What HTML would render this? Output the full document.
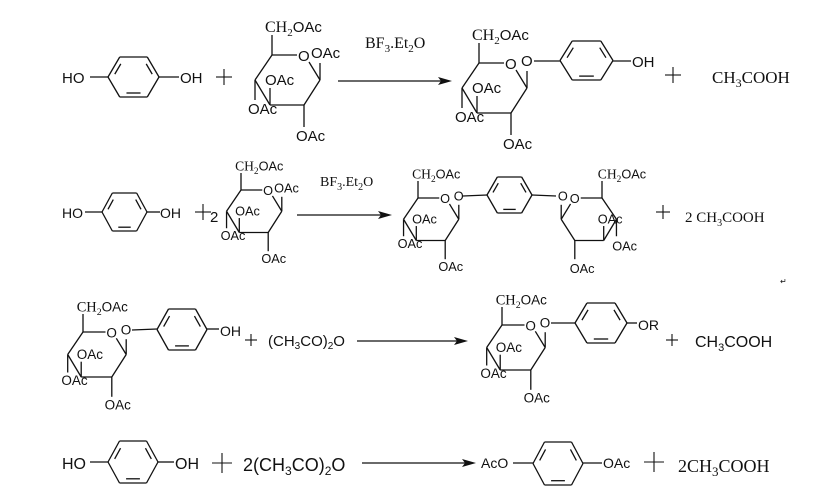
<!DOCTYPE html>
<html><head><meta charset="utf-8"><style>
html,body{margin:0;padding:0;background:#fff;}
svg{display:block;}
.s{font-family:"Liberation Sans",sans-serif;}
.r{font-family:"Liberation Serif",serif;}
text{fill:#111;}
</style></head><body>
<svg id="c" width="834" height="502" viewBox="0 0 834 502" xmlns="http://www.w3.org/2000/svg">
<g id="lines" stroke="#111" stroke-width="1.3" fill="none"></g>
<g id="fills" fill="#111"></g>

<!-- Row 1 -->
<text class="s" x="62" y="83" font-size="15">HO</text>
<text class="s" x="180" y="83" font-size="15">OH</text>
<g transform="translate(272,55)" font-size="15">
<text x="-7" y="-23"><tspan class="r" font-size="16">CH</tspan><tspan class="r" font-size="11" dy="4">2</tspan><tspan class="s" dy="-4">OAc</tspan></text>
<text class="s" x="26" y="6">O</text>
<text class="s" x="39" y="3">OAc</text>
<text class="s" x="-7" y="30">OAc</text>
<text class="s" x="-24" y="59">OAc</text>
<text class="s" x="24" y="86">OAc</text>
</g>
<text class="r" x="365" y="48" font-size="16">BF<tspan font-size="11" dy="4">3</tspan><tspan dy="-4">.Et</tspan><tspan font-size="11" dy="4">2</tspan><tspan dy="-4">O</tspan></text>
<g transform="translate(479,63)" font-size="15">
<text x="-7" y="-23"><tspan class="r" font-size="16">CH</tspan><tspan class="r" font-size="11" dy="4">2</tspan><tspan class="s" dy="-4">OAc</tspan></text>
<text class="s" x="26" y="6">O</text>
<text class="s" x="42" y="3">O</text>
<text class="s" x="-7" y="30">OAc</text>
<text class="s" x="-24" y="59">OAc</text>
<text class="s" x="24" y="86">OAc</text>
</g>
<text class="s" x="632" y="67" font-size="15">OH</text>
<text class="r" x="712" y="83" font-size="17">CH<tspan font-size="12" dy="4">3</tspan><tspan dy="-4">COOH</tspan></text>

<!-- Row 2 -->
<text class="s" x="62" y="218" font-size="14">HO</text>
<text class="s" x="160" y="218" font-size="14">OH</text>
<text class="s" x="210" y="222" font-size="15">2</text>
<g transform="translate(241,190) scale(0.85)" font-size="15">
<text x="-7" y="-23"><tspan class="r" font-size="16">CH</tspan><tspan class="r" font-size="11" dy="4">2</tspan><tspan class="s" dy="-4">OAc</tspan></text>
<text class="s" x="26" y="6">O</text>
<text class="s" x="39" y="3">OAc</text>
<text class="s" x="-7" y="30">OAc</text>
<text class="s" x="-24" y="59">OAc</text>
<text class="s" x="24" y="86">OAc</text>
</g>
<text class="r" x="320" y="186" font-size="14">BF<tspan font-size="10" dy="4">3</tspan><tspan dy="-4">.Et</tspan><tspan font-size="10" dy="4">2</tspan><tspan dy="-4">O</tspan></text>
<g transform="translate(418,198) scale(0.85)" font-size="15">
<text x="-7" y="-23"><tspan class="r" font-size="16">CH</tspan><tspan class="r" font-size="11" dy="4">2</tspan><tspan class="s" dy="-4">OAc</tspan></text>
<text class="s" x="26" y="6">O</text>
<text class="s" x="42" y="3">O</text>
<text class="s" x="-7" y="30">OAc</text>
<text class="s" x="-24" y="59">OAc</text>
<text class="s" x="24" y="86">OAc</text>
</g>
<g transform="translate(602,198) scale(0.85)" font-size="15">
<text x="-5" y="-23"><tspan class="r" font-size="16">CH</tspan><tspan class="r" font-size="11" dy="4">2</tspan><tspan class="s" dy="-4">OAc</tspan></text>
<text class="s" x="-38" y="6">O</text>
<text class="s" x="-52" y="3">O</text>
<text class="s" x="-5" y="30">OAc</text>
<text class="s" x="12" y="62">OAc</text>
<text class="s" x="-38" y="88">OAc</text>
</g>
<text class="r" x="685" y="222" font-size="15">2 CH<tspan font-size="10" dy="4">3</tspan><tspan dy="-4">COOH</tspan></text>
<text class="s" x="780" y="284" font-size="8" fill="#888">↵</text>

<!-- Row 3 -->
<g transform="translate(83,332) scale(0.9)" font-size="15">
<text x="-7" y="-23"><tspan class="r" font-size="16">CH</tspan><tspan class="r" font-size="11" dy="4">2</tspan><tspan class="s" dy="-4">OAc</tspan></text>
<text class="s" x="26" y="6">O</text>
<text class="s" x="42" y="3">O</text>
<text class="s" x="-7" y="30">OAc</text>
<text class="s" x="-24" y="59">OAc</text>
<text class="s" x="24" y="86">OAc</text>
</g>
<text class="s" x="220" y="336" font-size="14">OH</text>
<text class="s" x="268" y="346" font-size="15">(CH<tspan font-size="10" dy="3">3</tspan><tspan dy="-3">CO)</tspan><tspan font-size="10" dy="3">2</tspan><tspan dy="-3">O</tspan></text>
<g transform="translate(502,325) scale(0.9)" font-size="15">
<text x="-7" y="-23"><tspan class="r" font-size="16">CH</tspan><tspan class="r" font-size="11" dy="4">2</tspan><tspan class="s" dy="-4">OAc</tspan></text>
<text class="s" x="26" y="6">O</text>
<text class="s" x="42" y="3">O</text>
<text class="s" x="-7" y="30">OAc</text>
<text class="s" x="-24" y="59">OAc</text>
<text class="s" x="24" y="86">OAc</text>
</g>
<text class="s" x="638" y="330" font-size="14">OR</text>
<text class="s" x="695" y="347" font-size="16">CH<tspan font-size="11" dy="4">3</tspan><tspan dy="-4">COOH</tspan></text>

<!-- Row 4 -->
<text class="s" x="62" y="469" font-size="16">HO</text>
<text class="s" x="175" y="469" font-size="16">OH</text>
<text class="s" x="243" y="471" font-size="18">2(CH<tspan font-size="12" dy="4">3</tspan><tspan dy="-4">CO)</tspan><tspan font-size="12" dy="4">2</tspan><tspan dy="-4">O</tspan></text>
<text class="s" x="481" y="468" font-size="14">AcO</text>
<text class="s" x="603" y="468" font-size="14">OAc</text>
<text class="r" x="678" y="472" font-size="18">2CH<tspan font-size="13" dy="4">3</tspan><tspan dy="-4">COOH</tspan></text>
</svg>
<script>
var L=document.getElementById('lines'),F=document.getElementById('fills');
function ln(a,b,c,d,w){var e=document.createElementNS('http://www.w3.org/2000/svg','line');e.setAttribute('x1',a);e.setAttribute('y1',b);e.setAttribute('x2',c);e.setAttribute('y2',d);if(w)e.setAttribute('stroke-width',w);L.appendChild(e);}
function benz(l,r,t,b){var w=r-l,yc=(t+b)/2,tl=l+0.23*w,tr=r-0.23*w;var P=[[l,yc],[tl,t],[tr,t],[r,yc],[tr,b],[tl,b]];var cx=(l+r)/2;
for(var i=0;i<6;i++){var p=P[i],q=P[(i+1)%6];ln(p[0],p[1],q[0],q[1]);}
[[0,1],[2,3],[4,5]].forEach(function(e){var p=P[e[0]],q=P[e[1]];var a=[p[0]+0.18*(q[0]-p[0]),p[1]+0.18*(q[1]-p[1])],c=[q[0]-0.18*(q[0]-p[0]),q[1]-0.18*(q[1]-p[1])];var k=0.2;ln(a[0]+k*(cx-a[0]),a[1]+k*(yc-a[1]),c[0]+k*(cx-c[0]),c[1]+k*(yc-c[1]));});}
function sugar(tx,ty,sx,sy){var T=function(p){return [tx+sx*p[0],ty+sy*p[1]];};
var S=[[[0,0],[0,-20]],[[0,0],[25,0]],[[37,7],[48,25]],[[48,25],[48,8]],[[48,25],[32,50]],[[32,50],[-2,50]],[[-2,50],[-17,25]],[[-17,25],[0,0]],[[32,50],[32,72]],[[-2,50],[-2,33]],[[-17,25],[-17,45]]];
S.forEach(function(s){var a=T(s[0]),b=T(s[1]);ln(a[0],a[1],b[0],b[1]);});}
function arrow(x1,x2,y){ln(x1,y,x2-10,y);var p=document.createElementNS('http://www.w3.org/2000/svg','polygon');p.setAttribute('points',(x2-14)+','+(y-4)+' '+x2+','+y+' '+(x2-14)+','+(y+4)+' '+(x2-11)+','+y);F.appendChild(p);}
function plus(x,y,h){ln(x-h,y,x+h,y,1.1);ln(x,y-h,x,y+h,1.1);}
// row1
benz(108,159,57,97);ln(90,77,108,77);ln(159,77,179,77);plus(224,77,8);
sugar(272,55,1,1);arrow(338,452,81);
sugar(479,63,1,1);benz(560,613,41,80);ln(534,61,560,61);ln(613,61,631,61);plus(673,75,8);
// row2
benz(102,147,193,231);ln(85,212,102,212);ln(147,212,160,212);plus(203,212,8);
sugar(241,190,0.85,0.85);arrow(297,392,215);
sugar(418,198,0.85,0.85);benz(487,532,177,213);ln(463,196,487,195);ln(532,195,556,196);
sugar(602,198,-0.85,0.85);plus(663,212,7);
// row3
sugar(83,332,0.9,0.9);benz(157,207,309,350);ln(132,330,157,329);ln(207,329,219,329);plus(251,340,6);
arrow(357,468,341);
sugar(502,325,0.9,0.9);benz(575,627,303,343);ln(551,323,575,323);ln(627,323,637,323);plus(672,340,6);
// row4
benz(108,158,441,483);ln(90,462,108,462);ln(158,462,174,462);plus(222,463,10);
arrow(362,476,463);
benz(533,583,442,485);ln(513,463,533,463);ln(583,463,602,463);plus(654,462,10);
</script>
</body></html>
